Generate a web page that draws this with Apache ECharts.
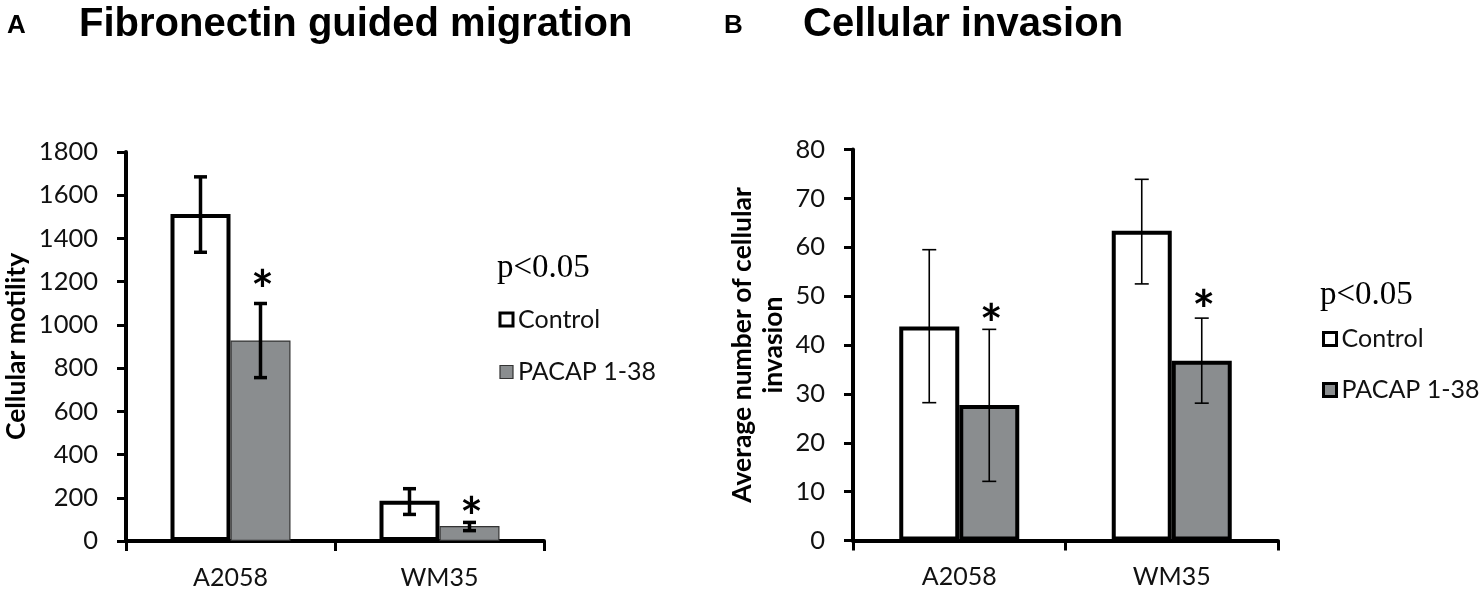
<!DOCTYPE html>
<html>
<head>
<meta charset="utf-8">
<script src="https://cdn.jsdelivr.net/npm/echarts@6/dist/echarts.min.js"></script>
<style>
html,body{margin:0;padding:0;background:#fff;}
#chart{width:1479px;height:590px;}
</style>
</head>
<body>
<div id="chart"></div>
<script>
// ---- data ----
const categories = ['A2058', 'WM35'];
const seriesNames = ['Control', 'PACAP 1-38'];

// Panel A: Fibronectin guided migration (cellular motility)
const motilityControl = [1513, 186];
const motilityPacap = [928, 69];
const motilityControlErr = [[1336, 1685], [123, 242]];
const motilityPacapErr = [[756, 1099], [48, 86]];
const motilityStars = [1211, 158];
const motilityTicks = { min: 0, max: 1800, interval: 200 };

// Panel B: Cellular invasion
const invasionControl = [43.8, 63.4];
const invasionPacap = [27.7, 36.8];
const invasionControlErr = [[28.2, 59.5], [52.5, 73.9]];
const invasionPacapErr = [[12.1, 43.2], [28.1, 45.5]];
const invasionStars = [46.4, 49.3];
const invasionTicks = { min: 0, max: 80, interval: 10 };

// ---- styles ----
const GRAY = '#8a8d8f';
const FONT = 'Lato, "Open Sans", sans-serif';
const BAR_W = 60;

function errData(errs) {
  return errs.map((e, i) => [i, e[0], e[1]]);
}
function starData(vals) {
  return vals.map((v, i) => [i, v]);
}
function errSeries(xAxisIndex, data, offset, lw, cap) {
  return {
    type: 'custom',
    xAxisIndex: xAxisIndex, yAxisIndex: xAxisIndex,
    data: data,
    z: 5,
    silent: true,
    renderItem: function (params, api) {
      const c = api.value(0);
      const lo = api.coord([c, api.value(1)]);
      const hi = api.coord([c, api.value(2)]);
      const x = lo[0] + offset;
      const st = { stroke: '#000', lineWidth: lw };
      return {
        type: 'group',
        children: [
          { type: 'line', shape: { x1: x, y1: lo[1], x2: x, y2: hi[1] }, style: st },
          { type: 'line', shape: { x1: x - cap, y1: lo[1], x2: x + cap, y2: lo[1] }, style: st },
          { type: 'line', shape: { x1: x - cap, y1: hi[1], x2: x + cap, y2: hi[1] }, style: st }
        ]
      };
    }
  };
}
function starSeries(xAxisIndex, data, offset) {
  return {
    type: 'custom',
    xAxisIndex: xAxisIndex, yAxisIndex: xAxisIndex,
    data: data,
    z: 6,
    silent: true,
    renderItem: function (params, api) {
      const p = api.coord([api.value(0), api.value(1)]);
      return {
        type: 'text',
        x: p[0] + offset + 2, y: p[1] + 12,
        style: { text: '*', fontSize: 54, fontWeight: 'bold', fontFamily: 'Lato, sans-serif', fill: '#000',
                 align: 'center', verticalAlign: 'middle' }
      };
    }
  };
}
function yAxisCfg(gridIndex, ticks, name, nameGap) {
  return {
    type: 'value', gridIndex: gridIndex,
    min: ticks.min, max: ticks.max, interval: ticks.interval,
    name: name, nameLocation: 'middle', nameGap: nameGap,
    nameTextStyle: { fontFamily: FONT, fontWeight: 'bold', fontSize: 26.5, color: '#000', lineHeight: 31 },
    axisLine: { show: true, lineStyle: { color: '#000', width: 4 } },
    axisTick: { show: true, length: 9, lineStyle: { color: '#000', width: 3 } },
    axisLabel: { fontFamily: FONT, fontSize: 25.5, color: '#111', margin: 28,
                 formatter: function (v) { return String(v); } },
    splitLine: { show: false }
  };
}
function xAxisCfg(gridIndex) {
  return {
    type: 'category', gridIndex: gridIndex, data: categories,
    axisLine: { show: true, lineStyle: { color: '#000', width: 4 } },
    axisTick: { show: true, length: 10, lineStyle: { color: '#000', width: 3 } },
    axisLabel: { fontFamily: FONT, fontSize: 25, color: '#111', margin: 24 }
  };
}

const option = {
  backgroundColor: '#fff',
  animation: false,
  grid: [
    { left: 121, top: 152, width: 423, height: 391 },
    { left: 853, top: 149.5, width: 425, height: 391 }
  ],
  xAxis: [xAxisCfg(0), xAxisCfg(1)],
  yAxis: [
    yAxisCfg(0, motilityTicks, 'Cellular motility', 94),
    yAxisCfg(1, invasionTicks, 'Average number of cellular\ninvasion', 64)
  ],
  legend: [
    {
      orient: 'vertical', left: 498.5, top: 304.5, padding: 0,
      itemWidth: 13, itemHeight: 13, itemGap: 22.5, icon: 'rect',
      selectedMode: false,
      textStyle: { fontFamily: FONT, fontSize: 25, color: '#111', lineHeight: 30 },
      data: [
        { name: 'Control', itemStyle: { color: '#fff', borderColor: '#000', borderWidth: 3 } },
        { name: 'PACAP 1-38', itemStyle: { color: GRAY, borderColor: '#333', borderWidth: 1.2 } }
      ]
    },
    {
      orient: 'vertical', left: 1322, top: 324, padding: 0,
      itemWidth: 13, itemHeight: 13, itemGap: 21, icon: 'rect',
      selectedMode: false,
      textStyle: { fontFamily: FONT, fontSize: 25, color: '#111', lineHeight: 30 },
      data: [
        { name: 'Control', itemStyle: { color: '#fff', borderColor: '#000', borderWidth: 3 } },
        { name: 'PACAP 1-38', itemStyle: { color: GRAY, borderColor: '#000', borderWidth: 3 } }
      ]
    }
  ],
  graphic: [
    { type: 'text', left: 7, top: 13, style: { text: 'A', fontFamily: 'Liberation Sans, Arial, sans-serif', fontWeight: 'bold', fontSize: 26, fill: '#000' } },
    { type: 'text', left: 79, top: 5, style: { text: 'Fibronectin guided migration', fontFamily: 'Liberation Sans, Arial, sans-serif', fontWeight: 'bold', fontSize: 40, fill: '#000' } },
    { type: 'text', left: 724, top: 13, style: { text: 'B', fontFamily: 'Liberation Sans, Arial, sans-serif', fontWeight: 'bold', fontSize: 26, fill: '#000' } },
    { type: 'text', left: 803, top: 5, style: { text: 'Cellular invasion', fontFamily: 'Liberation Sans, Arial, sans-serif', fontWeight: 'bold', fontSize: 40, fill: '#000' } },
    { type: 'text', left: 497, top: 252, style: { text: 'p<0.05', fontFamily: '"Liberation Serif", "DejaVu Serif", serif', fontSize: 33, fill: '#000' } },
    { type: 'text', left: 1320, top: 279, style: { text: 'p<0.05', fontFamily: '"Liberation Serif", "DejaVu Serif", serif', fontSize: 33, fill: '#000' } }
  ],
  series: [
    { name: 'Control', type: 'bar', xAxisIndex: 0, yAxisIndex: 0, data: motilityControl,
      barWidth: BAR_W, barGap: '0%',
      itemStyle: { color: '#fff', borderColor: '#000', borderWidth: 4 } },
    { name: 'PACAP 1-38', type: 'bar', xAxisIndex: 0, yAxisIndex: 0, data: motilityPacap,
      barWidth: BAR_W, barGap: '0%',
      itemStyle: { color: GRAY, borderColor: '#333', borderWidth: 1.2 } },
    { name: 'Control', type: 'bar', xAxisIndex: 1, yAxisIndex: 1, data: invasionControl,
      barWidth: BAR_W, barGap: '0%',
      itemStyle: { color: '#fff', borderColor: '#000', borderWidth: 4 } },
    { name: 'PACAP 1-38', type: 'bar', xAxisIndex: 1, yAxisIndex: 1, data: invasionPacap,
      barWidth: BAR_W, barGap: '0%',
      itemStyle: { color: GRAY, borderColor: '#000', borderWidth: 4 } },
    errSeries(0, errData(motilityControlErr), -BAR_W / 2, 3.5, 6.5),
    errSeries(0, errData(motilityPacapErr), BAR_W / 2, 3.5, 6.5),
    errSeries(1, errData(invasionControlErr), -BAR_W / 2, 1.6, 7),
    errSeries(1, errData(invasionPacapErr), BAR_W / 2, 1.6, 7),
    starSeries(0, starData(motilityStars), BAR_W / 2),
    starSeries(1, starData(invasionStars), BAR_W / 2)
  ]
};

const chart = echarts.init(document.getElementById('chart'), null, { renderer: 'canvas' });
chart.setOption(option);
</script>
</body>
</html>
